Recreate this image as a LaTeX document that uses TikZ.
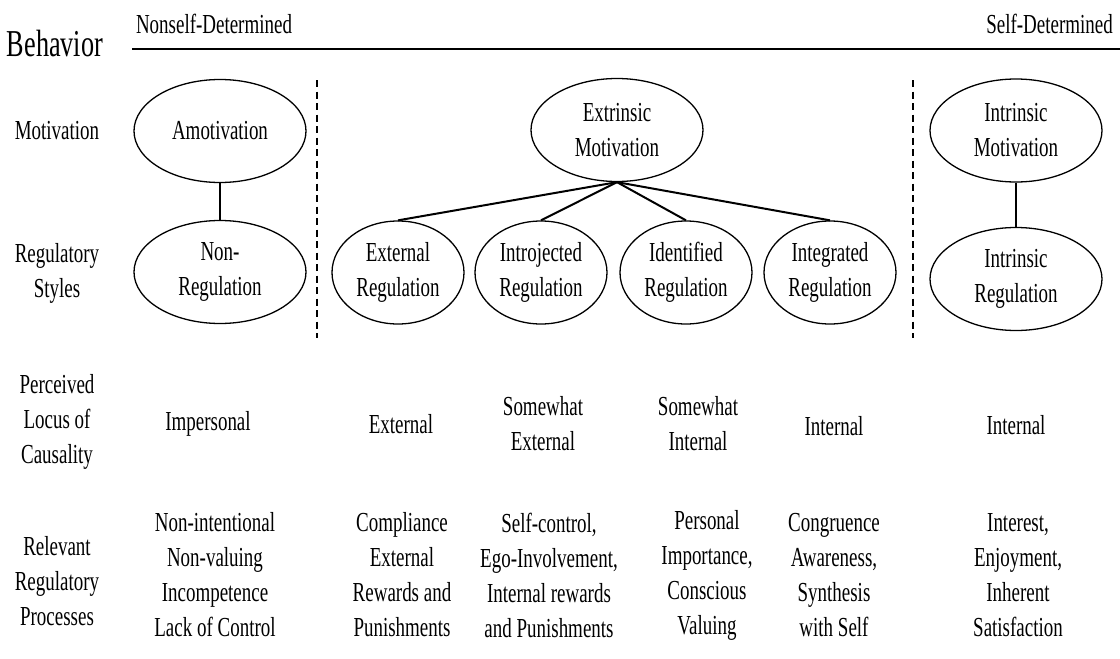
\documentclass[tikz,border=0pt]{standalone}
\usepackage{fontspec}
\setmainfont[FakeStretch=0.69]{Liberation Serif}
\usetikzlibrary{shapes.geometric}
\begin{document}
\begin{tikzpicture}[x=1pt,y=-1pt,
  txt/.style={align=center,inner sep=0pt,font=\fontsize{27.5}{35}\selectfont},
  ovalbig/.style={draw,ellipse,line width=1.3pt,minimum width=172pt,minimum height=103pt,inner sep=0pt,align=center,font=\fontsize{27.5}{35}\selectfont},
  ovalsmall/.style={draw,ellipse,line width=1.3pt,minimum width=132pt,minimum height=103pt,inner sep=0pt,align=center,font=\fontsize{27.5}{35}\selectfont},
  tree/.style={line width=2pt},
  link/.style={line width=1.4pt},
  divider/.style={line width=1.3pt,dash pattern=on 7pt off 4.5pt}]
\useasboundingbox (0,0) rectangle (1120,659);
% header
\node[inner sep=0pt,font=\fontsize{38}{44}\selectfont] (behavior) at (55,44) {Behavior};
\node[txt] (nonself) at (214,24) {Nonself-Determined};
\node[txt,anchor=east] (self) at (1113,24) {Self-Determined};
\coordinate (hl) at (132,49);
\coordinate (hr) at (1120,49);
\draw[line width=2.2pt] (hl) -- (hr);
% dividers
\coordinate (d1t) at (317,80); \coordinate (d1b) at (317,338);
\coordinate (d2t) at (913,80); \coordinate (d2b) at (913,338);
\draw[divider] (d1t) -- (d1b);
\draw[divider] (d2t) -- (d2b);
% row labels
\node[txt] (lmot) at (57,131) {Motivation};
\node[txt] (lreg) at (57,273) {Regulatory\\Styles};
\node[txt] (lloc) at (57,422) {Perceived\\Locus of\\Causality};
\node[txt] (lproc) at (57,581) {Relevant\\Regulatory\\Processes};
% ellipses
\node[ovalbig] (amot) at (220,131) {Amotivation};
\node[ovalbig] (nonreg) at (220,272) {Non-\\Regulation};
\node[ovalbig] (extr) at (617,130) {Extrinsic\\Motivation};
\node[ovalsmall] (extreg) at (398,272.5) {External\\Regulation};
\node[ovalsmall] (introreg) at (541,272.5) {Introjected\\Regulation};
\node[ovalsmall] (identreg) at (686,272.5) {Identified\\Regulation};
\node[ovalsmall] (integreg) at (830,272.5) {Integrated\\Regulation};
\node[ovalbig] (intrmot) at (1016,130.5) {Intrinsic\\Motivation};
\node[ovalbig] (intrreg) at (1016,279) {Intrinsic\\Regulation};
% connectors
\draw[link] (amot) -- (nonreg);
\draw[link] (intrmot) -- (intrreg);
\draw[tree] (extr.south) -- (extreg.north);
\draw[tree] (extr.south) -- (introreg.north);
\draw[tree] (extr.south) -- (identreg.north);
\draw[tree] (extr.south) -- (integreg.north);
% locus row
\node[txt] (c1) at (208,424) {Impersonal};
\node[txt] (c2) at (401,424) {External};
\node[txt] (c3) at (543,424) {Somewhat\\External};
\node[txt] (c4) at (698,424) {Somewhat\\Internal};
\node[txt] (c5) at (834,426) {Internal};
\node[txt] (c6) at (1016,425) {Internal};
% processes row
\node[txt] (p1) at (215,575) {Non-intentional\\Non-valuing\\Incompetence\\Lack of Control};
\node[txt] (p2) at (402,575) {Compliance\\External\\Rewards and\\Punishments};
\node[txt] (p3) at (549,575) {Self-control,\\Ego-Involvement,\\Internal rewards\\and Punishments};
\node[txt] (p4) at (707,575) {Personal\\Importance,\\Conscious\\Valuing};
\node[txt] (p5) at (834,575) {Congruence\\Awareness,\\Synthesis\\with Self};
\node[txt] (p6) at (1018,575) {Interest,\\Enjoyment,\\Inherent\\Satisfaction};
\end{tikzpicture}
\end{document}
